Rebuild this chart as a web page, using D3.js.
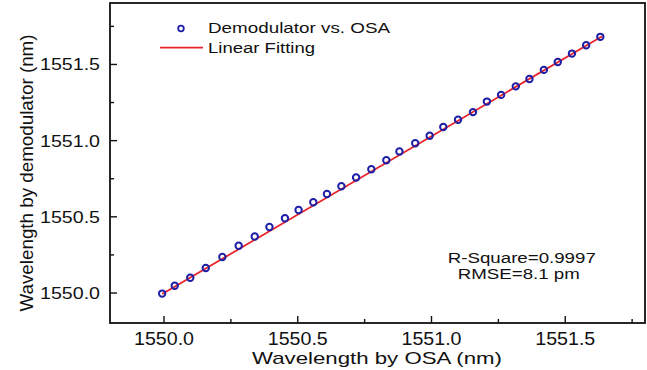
<!DOCTYPE html>
<html>
<head>
<meta charset="utf-8">
<script src="https://cdn.jsdelivr.net/npm/d3@7"></script>
<style>
  html, body { margin: 0; padding: 0; background: #fff; }
  svg { display: block; }
  text { font-family: "Liberation Sans", Arial, sans-serif; fill: #111; }
</style>
</head>
<body>
<svg id="chart" width="647" height="370"></svg>
<script>
// ---- data ----
const osaWavelength = [1549.995, 1550.042, 1550.100, 1550.158, 1550.220, 1550.281, 1550.341, 1550.396,
  1550.454, 1550.505, 1550.560, 1550.611, 1550.665, 1550.720, 1550.777, 1550.833, 1550.882, 1550.941,
  1550.995, 1551.046, 1551.101, 1551.157, 1551.209, 1551.262, 1551.317, 1551.368, 1551.422, 1551.474,
  1551.527, 1551.580, 1551.633];
const demodWavelength = [1549.993, 1550.044, 1550.097, 1550.161, 1550.233, 1550.307, 1550.368, 1550.430,
  1550.487, 1550.542, 1550.592, 1550.647, 1550.697, 1550.755, 1550.809, 1550.868, 1550.926, 1550.980,
  1551.029, 1551.086, 1551.134, 1551.184, 1551.253, 1551.297, 1551.353, 1551.401, 1551.461, 1551.513,
  1551.568, 1551.623, 1551.678];
const fitX = [1549.995, 1551.640];
const fitY = [1549.990, 1551.682];
const xMajorTicks = [1550.0, 1550.5, 1551.0, 1551.5];
const xMinorTicks = [1550.25, 1550.75, 1551.25, 1551.75];
const yMajorTicks = [1550.0, 1550.5, 1551.0, 1551.5];
const yMinorTicks = [1550.25, 1550.75, 1551.25, 1551.75];
const legendLabels = ["Demodulator vs. OSA", "Linear Fitting"];
const statsLines = ["R-Square=0.9997", "RMSE=8.1 pm"];
const xTitle = "Wavelength by OSA (nm)";
const yTitle = "Wavelength by demodulator (nm)";

// ---- layout ----
const L = 110, T = 3, R = 645, B = 323;
const svg = d3.select("#chart");
const x = d3.scaleLinear().domain([1549.8, 1551.8]).range([L, R]);
const y = d3.scaleLinear().domain([1549.8, 1551.9]).range([B, T]);
const blue = "#1e1ea6", red = "#e8242a";

// axes with inward ticks
const gx = svg.append("g").attr("transform", `translate(0,${B})`);
gx.call(d3.axisBottom(x).tickValues(xMajorTicks).tickSize(-7).tickPadding(0).tickFormat(d3.format(".1f")));
const gxm = svg.append("g").attr("transform", `translate(0,${B})`);
gxm.call(d3.axisBottom(x).tickValues(xMinorTicks).tickSize(-4).tickFormat(""));
const gy = svg.append("g").attr("transform", `translate(${L},0)`);
gy.call(d3.axisLeft(y).tickValues(yMajorTicks).tickSize(-7).tickPadding(0).tickFormat(d3.format(".1f")));
const gym = svg.append("g").attr("transform", `translate(${L},0)`);
gym.call(d3.axisLeft(y).tickValues(yMinorTicks).tickSize(-4).tickFormat(""));
[gx, gxm, gy, gym].forEach(g => {
  g.select(".domain").remove();
  g.selectAll(".tick line").attr("stroke", "#111").attr("stroke-width", 1.4);
});
gx.selectAll(".tick text")
  .attr("y", 21.5).attr("dy", null)
  .attr("font-size", 18).attr("fill", "#111")
  .attr("textLength", 60).attr("lengthAdjust", "spacingAndGlyphs")
  .attr("font-family", "Liberation Sans, Arial, sans-serif");
gy.selectAll(".tick text")
  .attr("x", -10).attr("dy", null).attr("y", 6)
  .attr("font-size", 17).attr("fill", "#111")
  .attr("textLength", 60).attr("lengthAdjust", "spacingAndGlyphs")
  .attr("font-family", "Liberation Sans, Arial, sans-serif");

// frame
svg.append("rect").attr("x", L).attr("y", T).attr("width", R - L).attr("height", B - T)
  .attr("fill", "none").attr("stroke", "#111").attr("stroke-width", 1.8);

// fit line
svg.append("line")
  .attr("x1", x(fitX[0])).attr("y1", y(fitY[0]))
  .attr("x2", x(fitX[1])).attr("y2", y(fitY[1]))
  .attr("stroke", red).attr("stroke-width", 1.8);

// points
svg.append("g").selectAll("circle").data(osaWavelength).join("circle")
  .attr("cx", d => x(d)).attr("cy", (d, i) => y(demodWavelength[i]))
  .attr("r", 3.2).attr("fill", "none").attr("stroke", blue).attr("stroke-width", 2);

// legend
svg.append("circle").attr("cx", 181).attr("cy", 28.5).attr("r", 2.8)
  .attr("fill", "none").attr("stroke", blue).attr("stroke-width", 1.8);
svg.append("text").attr("x", 208).attr("y", 33.3).attr("font-size", 15)
  .attr("textLength", 182).attr("lengthAdjust", "spacingAndGlyphs").text(legendLabels[0]);
svg.append("line").attr("x1", 160).attr("x2", 203).attr("y1", 47.7).attr("y2", 47.7)
  .attr("stroke", red).attr("stroke-width", 1.8);
svg.append("text").attr("x", 208).attr("y", 53.3).attr("font-size", 15.5)
  .attr("textLength", 107).attr("lengthAdjust", "spacingAndGlyphs").text(legendLabels[1]);

// stats annotation
svg.append("text").attr("x", 521.8).attr("y", 263).attr("text-anchor", "middle").attr("font-size", 14)
  .attr("textLength", 148).attr("lengthAdjust", "spacingAndGlyphs").text(statsLines[0]);
svg.append("text").attr("x", 518.8).attr("y", 279).attr("text-anchor", "middle").attr("font-size", 14)
  .attr("textLength", 122).attr("lengthAdjust", "spacingAndGlyphs").text(statsLines[1]);

// axis titles
svg.append("text").attr("x", 377).attr("y", 364).attr("text-anchor", "middle").attr("font-size", 17)
  .attr("textLength", 250).attr("lengthAdjust", "spacingAndGlyphs").text(xTitle);
svg.append("text").attr("transform", "translate(33,173) rotate(-90)").attr("text-anchor", "middle")
  .attr("font-size", 18.5).attr("textLength", 277).attr("lengthAdjust", "spacingAndGlyphs").text(yTitle);
</script>
</body>
</html>
